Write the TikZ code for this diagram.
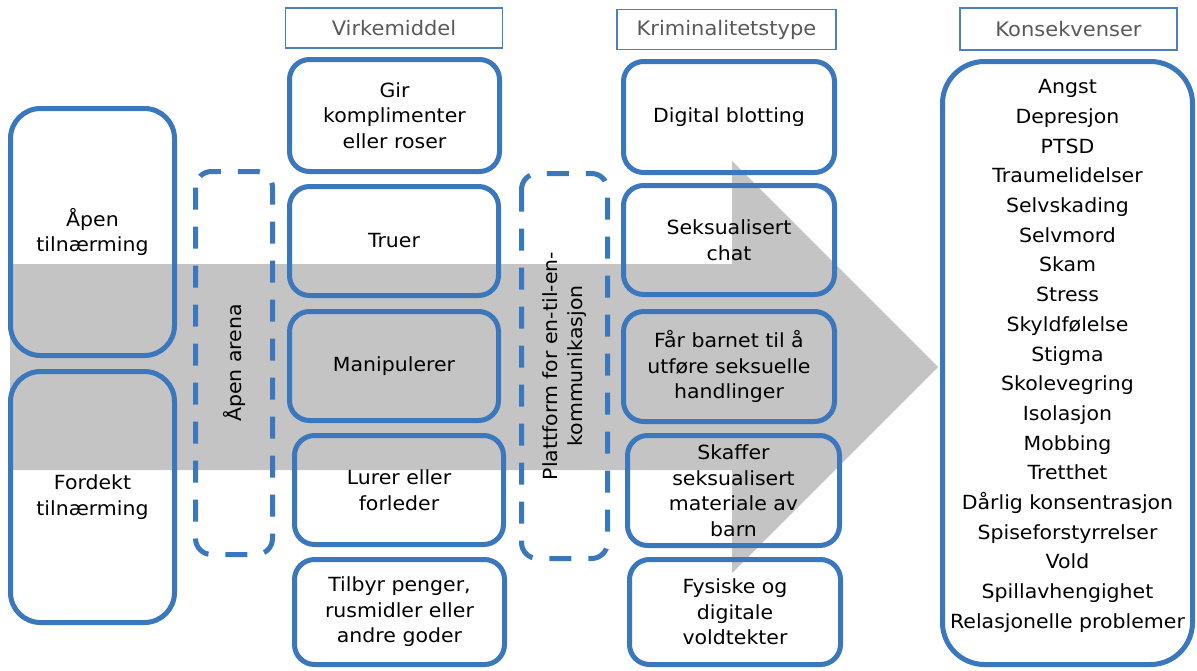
\documentclass[tikz,border=0pt]{standalone}
\usepackage{fontspec}
\setmainfont{DejaVu Sans}[FakeStretch=1.05]
\definecolor{bord}{HTML}{3A77BD}
\definecolor{arrowgray}{HTML}{C4C4C4}
\definecolor{hdtext}{HTML}{595959}
\definecolor{hdline}{HTML}{4A80C0}
\newcommand\txtbody{\fontsize{19.5}{25.5}\selectfont}
\newcommand\txthead{\fontsize{20}{24}\selectfont}
\newcommand\txtlist{\fontsize{19.5}{29.7}\selectfont}

\begin{document}
\begin{tikzpicture}[x=1pt,y=-1pt,
  box/.style={draw=bord, line width=5pt, rounded corners=20pt, align=center,
    inner sep=0pt, font=\txtbody, text=black},
  sidebox/.style={box, rounded corners=30pt},
  dashbox/.style={draw=bord, line width=5pt, rounded corners=16pt,
    dash pattern=on 22pt off 17pt, align=center, inner sep=0pt,
    font=\txtbody, text=black},
  head/.style={draw=hdline, line width=1.5pt, inner sep=0pt, font=\txthead,
    text=hdtext, minimum height=40pt, minimum width=217pt}]
\useasboundingbox (0,0) rectangle (1197,670);

% broad grey arrow behind the columns
\fill[arrowgray] (10,264) -- (732,264) -- (732,161) -- (938,367)
  -- (732,573) -- (732,470) -- (10,470) -- cycle;

% approach
\node[sidebox, minimum width=164pt, minimum height=247pt] (aapen) at (92.5,232) {Åpen\\tilnærming};
\node[sidebox, minimum width=164pt, minimum height=251pt] (fordekt) at (92.5,497) {Fordekt\\tilnærming};

% arena
\node[dashbox, rotate=90, minimum width=383pt, minimum height=77pt] (arena) at (234,363) {Åpen arena};

% means
\node[head] (hvirk) at (394,28) {Virkemiddel};
\node[box, minimum width=210pt, minimum height=112pt] (gir) at (394.5,115.5) {Gir\\komplimenter\\eller roser};
\node[box, minimum width=209pt, minimum height=109pt] (truer) at (394,241) {Truer};
\node[box, minimum width=209pt, minimum height=109pt] (manip) at (394,366) {Manipulerer};
\node[box, minimum width=209pt, minimum height=109pt] (lurer) at (399,490) {Lurer eller\\forleder};
\node[box, minimum width=210pt, minimum height=105pt] (tilbyr) at (399.5,612) {Tilbyr penger,\\rusmidler eller\\andre goder};

% platform
\node[dashbox, rotate=90, minimum width=385pt, minimum height=86pt] (plattform) at (564.5,366) {Plattform for en-til-en-\\kommunikasjon};

% crime type
\node[head, minimum width=219pt] (hkrim) at (726.5,29.5) {Kriminalitetstype};
\node[box, minimum width=211pt, minimum height=111pt] (digital) at (729,117) {Digital blotting};
\node[box, minimum width=211pt, minimum height=109pt] (chat) at (729,240) {Seksualisert\\chat};
\node[box, minimum width=211pt, minimum height=110pt] (handl) at (729,366.5) {Får barnet til å\\utføre seksuelle\\handlinger};
\node[box, minimum width=212pt, minimum height=110pt] (skaffer) at (733.5,490.5) {Skaffer\\seksualisert\\materiale av\\barn};
\node[box, minimum width=211pt, minimum height=105pt] (fysisk) at (735,612) {Fysiske og\\digitale\\voldtekter};

% consequences
\node[head, minimum height=42pt] (hkons) at (1068.5,29) {Konsekvenser};
\node[box, rounded corners=42pt, minimum width=250pt, minimum height=603pt] (kons) at (1067.5,363) {};
\node[align=center, inner sep=0pt, font=\txtlist] (konsliste) at ([yshift=7pt]kons.center)
  {Angst\\Depresjon\\PTSD\\Traumelidelser\\Selvskading\\Selvmord\\Skam\\Stress\\Skyldfølelse\\Stigma\\Skolevegring\\Isolasjon\\Mobbing\\Tretthet\\Dårlig konsentrasjon\\Spiseforstyrrelser\\Vold\\Spillavhengighet\\Relasjonelle problemer};
\end{tikzpicture}
\end{document}
